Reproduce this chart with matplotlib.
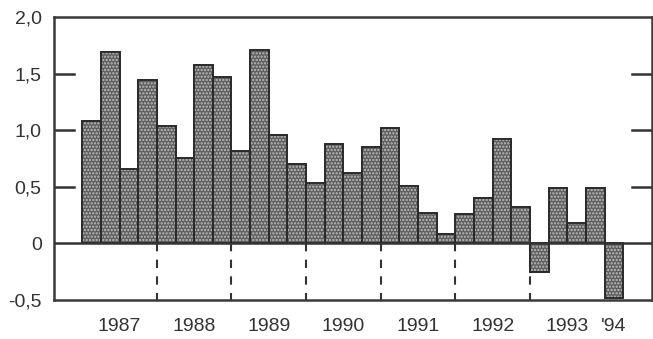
import numpy as np
import matplotlib.pyplot as plt

# quarterly values, 1987 Q1 .. 1994 Q1
values = [1.08, 1.69, 0.66, 1.44, 1.04, 0.75, 1.58, 1.47,
          0.82, 1.71, 0.96, 0.70, 0.53, 0.88, 0.62, 0.85,
          1.02, 0.51, 0.27, 0.08, 0.26, 0.40, 0.92, 0.32,
          -0.25, 0.49, 0.18, 0.49, -0.48]
year_labels = ['1987', '1988', '1989', '1990', '1991', '1992', '1993', "'94"]
quarters_per_year = [4, 4, 4, 4, 4, 4, 4, 1]
yticks = [-0.5, 0, 0.5, 1.0, 1.5, 2.0]
ytick_labels = ['-0,5', '0', '0,5', '1,0', '1,5', '2,0']

plt.rcParams['font.family'] = ['Liberation Sans', 'DejaVu Sans']
plt.rcParams['hatch.linewidth'] = 1.1

fig = plt.figure(figsize=(6.53, 3.39), dpi=100)
ax = fig.add_axes([0.083, 0.115, 0.916, 0.835])

x = np.arange(len(values))
ax.bar(x, values, width=1.0, color='#5e5e5e', edgecolor='#2a2a2a', linewidth=1.2, zorder=2)
# halftone-like stipple
ax.bar(x, values, width=1.0, color='none', edgecolor='#bdbdbd', hatch='.....', linewidth=0, zorder=3)
ax.bar(x, values, width=1.0, color='none', edgecolor='#2a2a2a', linewidth=1.3, zorder=4)

ax.axhline(0, color='#333333', linewidth=1.8, zorder=5)

# year boundaries and labels
ends = np.cumsum(quarters_per_year)
starts = ends - np.array(quarters_per_year)
for e in ends[:6]:
    ax.plot([e - 0.5, e - 0.5], [0, -0.5], color='#333333', linestyle=(0, (4, 4)), linewidth=1.5, zorder=1)
for s, e, lab in zip(starts, ends, year_labels):
    ax.text((s + e - 1) / 2, -0.73, lab, ha='center', va='center', fontsize=14, color='#333333',
            clip_on=False)

ax.set_xlim(-2.0, 30.05)
ax.set_ylim(-0.5, 2.0)
ax.set_xticks([])
ax.set_yticks(yticks)
ax.set_yticklabels(ytick_labels, fontsize=14, color='#333333')
ax.tick_params(axis='y', direction='in', length=0, pad=9)

# inner ticks on both sides
for yv in [0.5, 1.0, 1.5]:
    ax.plot([-2.0, -0.95], [yv, yv], color='#333333', linewidth=1.8, zorder=1)
    ax.plot([28.95, 30.05], [yv, yv], color='#333333', linewidth=1.8, zorder=1)

for sp in ax.spines.values():
    sp.set_color('#3a3a3a')
    sp.set_linewidth(1.8)

fig.savefig('out.png', dpi=100)
